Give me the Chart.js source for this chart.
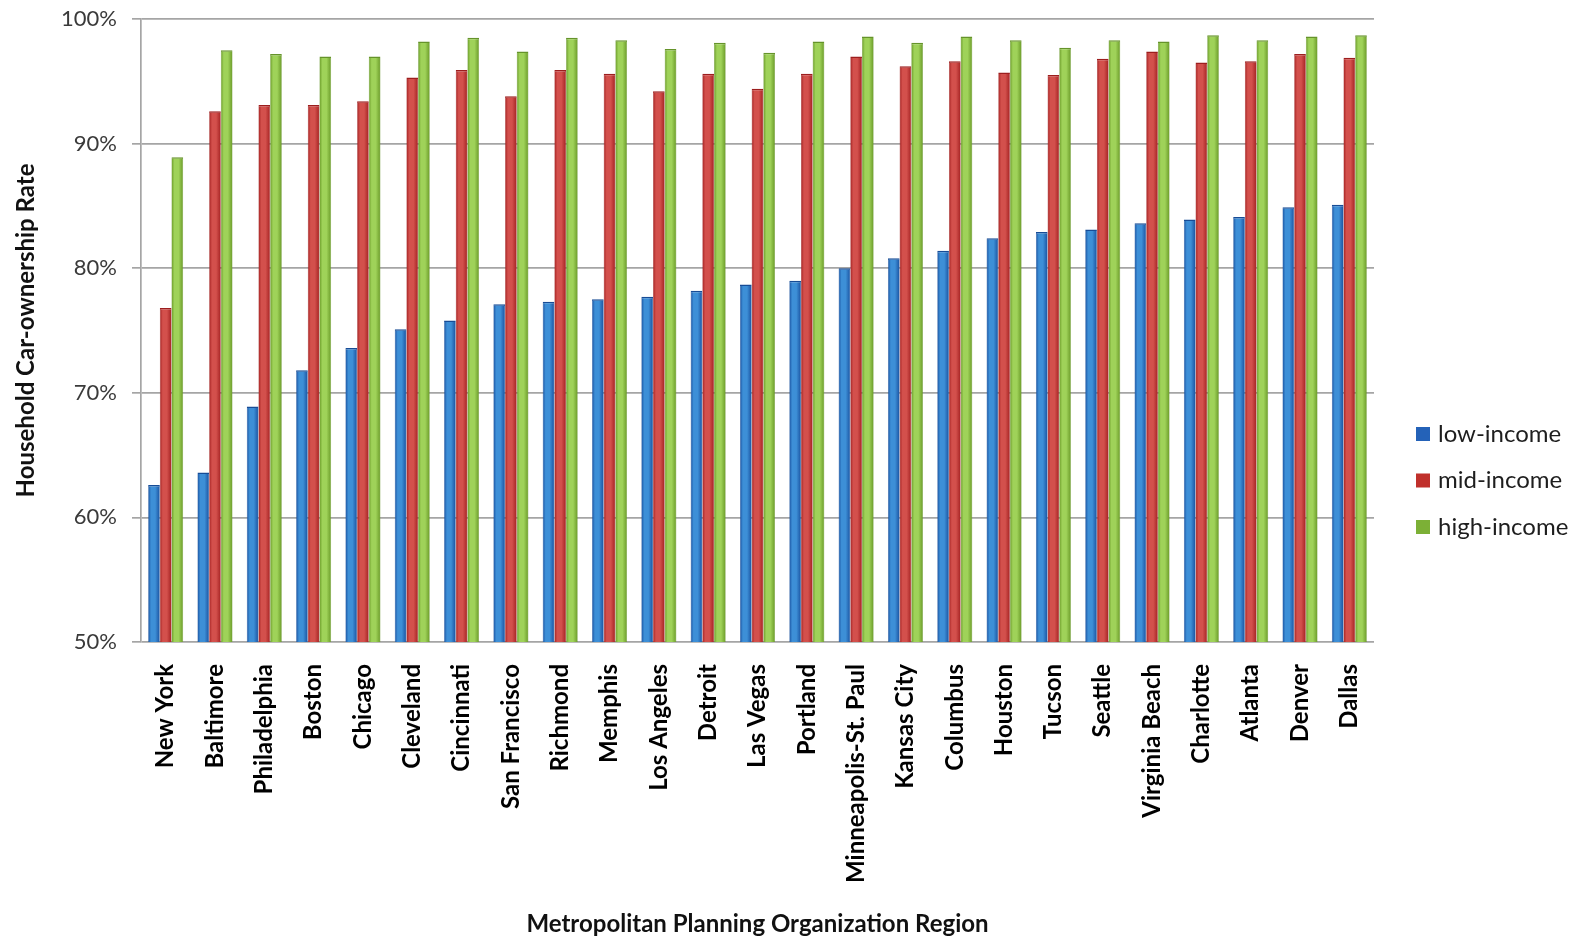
<!DOCTYPE html>
<html>
<head>
<meta charset="utf-8">
<script src="https://cdn.jsdelivr.net/npm/chart.js@4/dist/chart.umd.min.js"></script>
<style>
  html, body { margin: 0; padding: 0; background: #ffffff; }
  #wrap { width: 1588px; height: 939px; }
</style>
</head>
<body>
<div id="wrap"><canvas id="chart" width="1588" height="939"></canvas></div>
<script>
// Household car-ownership rate by income group, per MPO region (%)
const regions = [
  'New York', 'Baltimore', 'Philadelphia', 'Boston', 'Chicago', 'Cleveland',
  'Cincinnati', 'San Francisco', 'Richmond', 'Memphis', 'Los Angeles', 'Detroit',
  'Las Vegas', 'Portland', 'Minneapolis-St. Paul', 'Kansas City', 'Columbus',
  'Houston', 'Tucson', 'Seattle', 'Virginia Beach', 'Charlotte', 'Atlanta',
  'Denver', 'Dallas'
];
const lowIncome = [
  62.6, 63.6, 68.9, 71.8, 73.6, 75.1, 75.8, 77.1, 77.3, 77.5, 77.7, 78.2,
  78.7, 79.0, 80.0, 80.8, 81.4, 82.4, 82.9, 83.1, 83.6, 83.9, 84.1, 84.9, 85.1
];
const midIncome = [
  76.8, 92.6, 93.1, 93.1, 93.4, 95.3, 95.9, 93.8, 95.9, 95.6, 94.2, 95.6,
  94.4, 95.6, 97.0, 96.2, 96.6, 95.7, 95.5, 96.8, 97.4, 96.5, 96.6, 97.2, 96.9
];
const highIncome = [
  88.9, 97.5, 97.2, 97.0, 97.0, 98.2, 98.5, 97.4, 98.5, 98.3, 97.6, 98.1,
  97.3, 98.2, 98.6, 98.1, 98.6, 98.3, 97.7, 98.3, 98.2, 98.7, 98.3, 98.6, 98.7
];
const seriesNames = ['low-income', 'mid-income', 'high-income'];
const yTicks = [50, 60, 70, 80, 90, 100];

// Shading for each series: edge, light centre, legend swatch
const shades = [
  { edge: '#1a52a0', light: '#3d8fd7', swatch: '#2462b8', border: '#174c96' },
  { edge: '#a42222', light: '#d3504c', swatch: '#c0302b', border: '#9c1e1e' },
  { edge: '#6a9a28', light: '#9fd259', swatch: '#7cb036', border: '#65932a' }
];

const FONT = 'Lato, "Liberation Sans", sans-serif';

// Give every bar a horizontal cylinder-like gradient
const barShading = {
  id: 'barShading',
  beforeDatasetDraw(chart, args) {
    const ctx = chart.ctx;
    const s = shades[args.index];
    args.meta.data.forEach(el => {
      const { x, width } = el.getProps(['x', 'width'], true);
      const g = ctx.createLinearGradient(x - width / 2, 0, x + width / 2, 0);
      g.addColorStop(0, s.edge);
      g.addColorStop(0.25, s.light);
      g.addColorStop(0.6, s.light);
      g.addColorStop(1, s.edge);
      el.options.backgroundColor = g;
    });
  }
};

// Legend stacked to the right of the plot
const sideLegend = {
  id: 'sideLegend',
  afterDraw(chart, args, opts) {
    const ctx = chart.ctx;
    ctx.save();
    ctx.font = opts.font;
    ctx.textBaseline = 'middle';
    ctx.textAlign = 'left';
    chart.data.datasets.forEach((ds, i) => {
      const y = opts.top + i * opts.spacing;
      ctx.fillStyle = shades[i].swatch;
      ctx.fillRect(opts.left, y - opts.box / 2, opts.box, opts.box);
      ctx.fillStyle = opts.color;
      ctx.fillText(ds.label, opts.left + opts.box + opts.gap, y);
    });
    ctx.restore();
  }
};

const makeSet = (i, values) => ({
  label: seriesNames[i],
  data: values,
  backgroundColor: () => shades[i].light,
  borderColor: shades[i].border,
  borderWidth: { top: 1.5, left: 0.5, right: 0.5, bottom: 0 },
  borderSkipped: 'start',
  barPercentage: 1.0,
  categoryPercentage: 0.71
});

new Chart(document.getElementById('chart'), {
  type: 'bar',
  data: {
    labels: regions,
    datasets: [makeSet(0, lowIncome), makeSet(1, midIncome), makeSet(2, highIncome)]
  },
  options: {
    responsive: false,
    animation: false,
    layout: { padding: { top: 19, right: 214, bottom: 0, left: 0 } },
    plugins: {
      legend: { display: false },
      tooltip: { enabled: false },
      sideLegend: {
        left: 1416, top: 434, spacing: 46.5, box: 14, gap: 8,
        font: '24px ' + FONT, color: '#1e1e1e'
      }
    },
    scales: {
      x: {
        grid: { display: false },
        border: { display: false },
        ticks: {
          maxRotation: 90, minRotation: 90, autoSkip: false, padding: 14,
          color: '#000000',
          font: { family: FONT, size: 24, weight: 'bold' }
        },
        title: {
          display: true,
          text: 'Metropolitan Planning Organization Region',
          color: '#111111',
          font: { family: FONT, size: 24, weight: 'bold' },
          padding: { top: 0, bottom: 0 }
        },
        afterFit(scale) { scale.height = 297; }
      },
      y: {
        min: 50, max: 100,
        afterBuildTicks(scale) { scale.ticks = yTicks.map(v => ({ value: v })); },
        ticks: {
          padding: 15,
          color: '#3a3a3a',
          font: { family: FONT, size: 22 },
          callback: v => v + '%'
        },
        grid: { color: '#a5a5a5', lineWidth: 1.7, tickLength: 9, drawTicks: true },
        border: { color: '#a5a5a5', width: 1.7 },
        title: {
          display: true,
          text: 'Household Car-ownership Rate',
          color: '#111111',
          font: { family: FONT, size: 24, weight: 'bold' },
          padding: { top: 12, bottom: 0 }
        },
        afterFit(scale) {
          scale.width = 141;
          scale.paddingTop = 0;
          scale.paddingBottom = 0;
        }
      }
    }
  },
  plugins: [barShading, sideLegend]
});
</script>
</body>
</html>
